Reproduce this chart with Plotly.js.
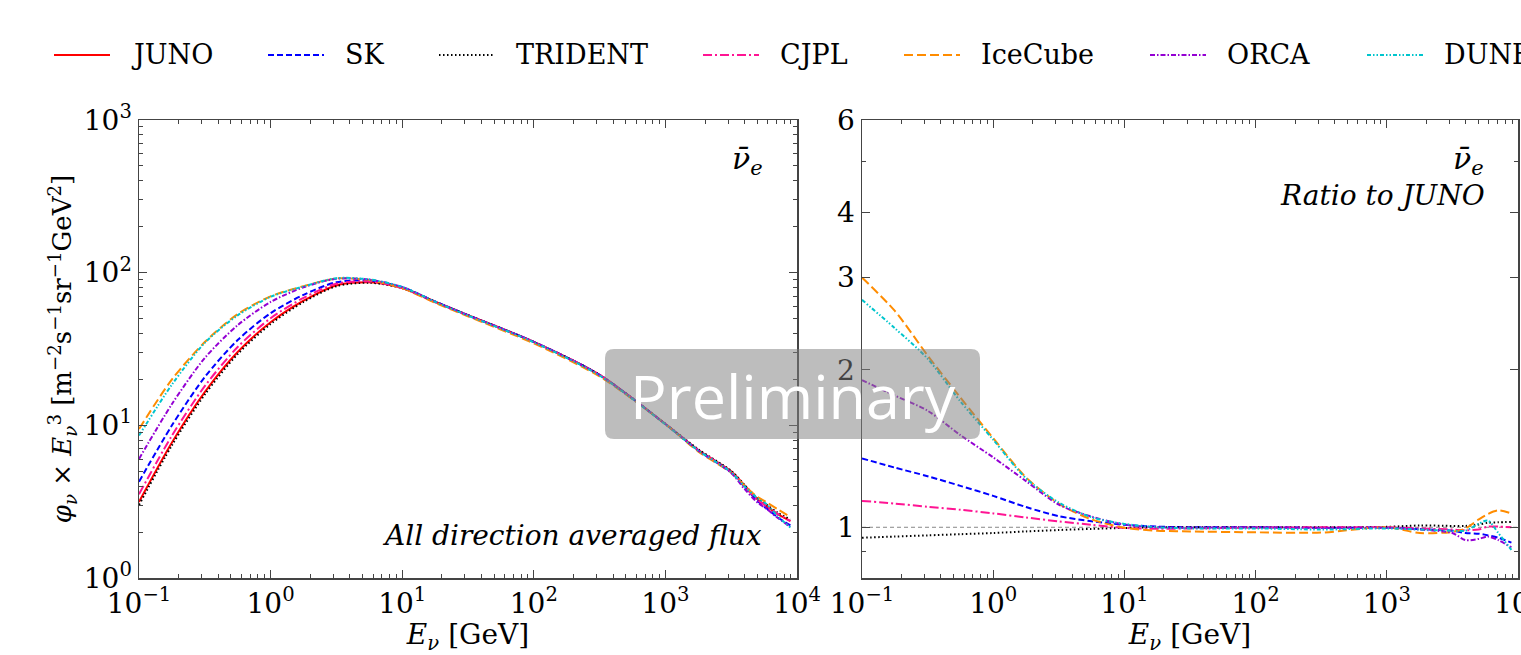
<!DOCTYPE html>
<html><head><meta charset="utf-8">
<script src="https://cdn.plot.ly/plotly-3.0.1.min.js"></script>
<style>html,body{margin:0;padding:0;background:#fff;overflow:hidden}#chart{width:1521px;height:655px}</style>
</head><body><div id="chart"></div>
<script>
// ---------- data ----------
const energy = [0.1, 0.178, 0.316, 0.562, 1, 1.78, 3.16, 5.62, 10, 17.8, 31.6, 100, 316, 1000, 1780, 3160, 3980, 5010, 5890, 7080, 8910];

const fluxJUNO    = [3.15, 7.72, 16.5, 30.2, 47.3, 65.5, 82.5, 86.5, 79.4, 64.5, 52.7, 35.2, 21.4, 10.2, 6.9, 5.0, 4.06, 3.28, 2.95, 2.63, 2.36];
const fluxSK      = [4.27, 10.0, 20.7, 36.2, 54.3, 71.6, 86.6, 88.8, 80.3, 64.7, 52.7, 35.2, 21.4, 10.2, 6.84, 4.93, 3.96, 3.19, 2.85, 2.51, 2.21];
const fluxTRIDENT = [3.01, 7.41, 15.9, 29.3, 46.1, 64.3, 81.5, 85.9, 79.2, 64.5, 52.7, 35.2, 21.4, 10.22, 6.96, 5.03, 4.08, 3.32, 3.01, 2.69, 2.42];
const fluxCJPL    = [3.54, 8.57, 18.05, 32.6, 50.3, 68.4, 84.6, 87.5, 79.2, 64.0, 52.4, 35.1, 21.4, 10.2, 6.87, 4.95, 4.01, 3.25, 2.96, 2.64, 2.36];
const fluxIceCube = [9.45, 20.0, 35.1, 53.5, 70.0, 81.5, 91.6, 89.5, 79.2, 63.5, 51.8, 34.4, 20.9, 10.2, 6.73, 4.9, 4.04, 3.39, 3.13, 2.83, 2.51];
const fluxORCA    = [6.02, 13.8, 27.6, 45.3, 64.3, 80.2, 91.2, 90.0, 80.4, 64.5, 52.6, 35.2, 21.3, 10.2, 6.83, 4.88, 3.84, 3.12, 2.83, 2.49, 2.16];
const fluxDUNE    = [8.57, 18.5, 34.7, 52.5, 69.5, 81.2, 92.0, 90.4, 80.6, 64.5, 52.4, 35.0, 21.2, 10.15, 6.83, 4.93, 4.0, 3.33, 3.04, 2.56, 2.14];

const ratioSK      = [1.354, 1.30, 1.252, 1.20, 1.148, 1.093, 1.05, 1.027, 1.011, 1.003, 1.0, 1.0, 0.998, 0.998, 0.992, 0.985, 0.975, 0.972, 0.965, 0.955, 0.935];
const ratioTRIDENT = [0.955, 0.96, 0.965, 0.97, 0.975, 0.982, 0.988, 0.993, 0.997, 1.0, 1.0, 1.0, 1.0, 1.002, 1.008, 1.006, 1.006, 1.012, 1.02, 1.022, 1.024];
const ratioCJPL    = [1.123, 1.11, 1.094, 1.08, 1.063, 1.044, 1.026, 1.011, 0.997, 0.993, 0.995, 0.998, 1.0, 1.0, 0.995, 0.99, 0.987, 0.99, 1.003, 1.003, 1.0];
const ratioIceCube = [3.0, 2.59, 2.13, 1.77, 1.48, 1.245, 1.11, 1.035, 0.998, 0.985, 0.982, 0.978, 0.977, 1.0, 0.975, 0.98, 0.995, 1.035, 1.06, 1.077, 1.063];
const ratioORCA    = [1.91, 1.785, 1.67, 1.50, 1.36, 1.225, 1.105, 1.048, 1.012, 1.0, 0.998, 1.0, 0.997, 0.998, 0.99, 0.975, 0.945, 0.95, 0.96, 0.945, 0.915];
const ratioDUNE    = [2.72, 2.40, 2.10, 1.74, 1.47, 1.24, 1.115, 1.045, 1.015, 1.0, 0.995, 0.995, 0.99, 0.995, 0.99, 0.985, 0.985, 1.015, 1.03, 0.975, 0.905];

const experiments = ['JUNO', 'SK', 'TRIDENT', 'CJPL', 'IceCube', 'ORCA', 'DUNE'];
const xTickVals = [0.1, 1, 10, 100, 1000, 10000];
const xTickText = ['10<sup>\u22121</sup>', '10<sup>0</sup>', '10<sup>1</sup>', '10<sup>2</sup>', '10<sup>3</sup>', '10<sup>4</sup>'];
const yTickVals = [1, 10, 100, 1000];
const yTickText = ['10<sup>0</sup>', '10<sup>1</sup>', '10<sup>2</sup>', '10<sup>3</sup>'];
const rTickVals = [1, 2, 3, 4, 6];
const rTickText = ['1', '2', '3', '4', '6'];

// ---------- styles ----------
const fluxes = {JUNO: fluxJUNO, SK: fluxSK, TRIDENT: fluxTRIDENT, CJPL: fluxCJPL, IceCube: fluxIceCube, ORCA: fluxORCA, DUNE: fluxDUNE};
const ratios = {SK: ratioSK, TRIDENT: ratioTRIDENT, CJPL: ratioCJPL, IceCube: ratioIceCube, ORCA: ratioORCA, DUNE: ratioDUNE};
const style = {
  JUNO:    {color: '#ff0000', dash: 'solid'},
  SK:      {color: '#0000ff', dash: '6px,3px'},
  TRIDENT: {color: '#000000', dash: '1.5px,2.5px'},
  CJPL:    {color: '#ff1493', dash: '9px,3px,2px,3px'},
  IceCube: {color: '#ff8c00', dash: '9px,4px'},
  ORCA:    {color: '#9400d3', dash: '5px,2px,1.5px,2px'},
  DUNE:    {color: '#00c5cd', dash: '4px,2px,1.5px,2px,1.5px,2px'}
};

const traces = [];
experiments.forEach(n => {
  traces.push({x: energy, y: fluxes[n], xaxis: 'x', yaxis: 'y', mode: 'lines', name: n,
    line: {color: style[n].color, dash: style[n].dash, width: 2, shape: 'spline', smoothing: 0.8}, hoverinfo: 'skip'});
});
experiments.forEach(n => {
  if (!ratios[n]) return;
  traces.push({x: energy, y: ratios[n], xaxis: 'x2', yaxis: 'y2', mode: 'lines', name: n + ' ratio', showlegend: false,
    line: {color: style[n].color, dash: style[n].dash, width: 2, shape: 'spline', smoothing: 0.8}, hoverinfo: 'skip'});
});

// ---------- geometry helpers ----------
const L = 139, R = 1518, T = 120, B = 578;
const px = v => (v - L) / (R - L);
const py = v => (B - v) / (B - T);

function minorLog(lo, hi) {
  const out = [];
  for (let e = lo; e < hi; e++) for (let k = 2; k <= 9; k++) out.push(k * Math.pow(10, e));
  return out;
}
const serif = 'DejaVu Serif, Liberation Serif, serif';
const axCol = '#444';
const tickFont = {family: serif, size: 28, color: '#000'};
function baseAxis(extra) {
  return Object.assign({
    showgrid: false, zeroline: false, showline: true, linecolor: axCol, linewidth: 1.5,
    mirror: 'allticks', ticks: 'inside', ticklen: 8, tickwidth: 1.2, tickcolor: axCol,
    tickfont: tickFont, tickmode: 'array', automargin: false
  }, extra);
}

const xTitle = {text: '<i>E<sub>\u03bd</sub></i> [GeV]', font: {family: serif, size: 28, color: '#000'}, standoff: 6};

const layout = {
  width: 1521, height: 655,
  margin: {l: L, r: 1521 - R, t: T, b: 655 - B},
  paper_bgcolor: '#fff', plot_bgcolor: '#fff', showlegend: false,
  xaxis: baseAxis({type: 'log', range: [-1, 4], domain: [0, 658 / 1379], anchor: 'y',
    tickvals: xTickVals, ticktext: xTickText, title: xTitle,
    minor: {tickvals: minorLog(-1, 4), ticks: 'inside', ticklen: 4, tickwidth: 1, tickcolor: axCol, showgrid: false}}),
  yaxis: baseAxis({type: 'log', range: [0, 3], anchor: 'x', tickvals: yTickVals, ticktext: yTickText,
    title: {text: '<i>\u03c6<sub>\u03bd</sub></i> \u00d7 <i>E</i><sub><i>\u03bd</i></sub><sup>3</sup> [m<sup>\u22122</sup>s<sup>\u22121</sup>sr<sup>\u22121</sup>GeV<sup>2</sup>]',
      font: {family: serif, size: 26, color: '#000'}, standoff: 4},
    minor: {tickvals: minorLog(0, 3), ticks: 'inside', ticklen: 4, tickwidth: 1, tickcolor: axCol, showgrid: false}}),
  xaxis2: baseAxis({type: 'log', range: [-1, 4], domain: [723 / 1379, 1], anchor: 'y2',
    tickvals: xTickVals, ticktext: xTickText, title: xTitle, ticklabeloverflow: 'allow',
    minor: {tickvals: minorLog(-1, 4), ticks: 'inside', ticklen: 4, tickwidth: 1, tickcolor: axCol, showgrid: false}}),
  yaxis2: baseAxis({type: 'log', range: [Math.log10(0.8), Math.log10(6)], anchor: 'x2',
    tickvals: rTickVals, ticktext: rTickText,
    minor: {tickvals: [0.8, 0.9, 5], ticks: 'inside', ticklen: 4, tickwidth: 1, tickcolor: axCol, showgrid: false}}),
  shapes: [],
  annotations: []
};

// reference line at ratio = 1
layout.shapes.push({type: 'line', xref: 'x2 domain', yref: 'y2', x0: 0, x1: 1, y0: 1, y1: 1,
  line: {color: '#888', width: 1, dash: '4px,3px'}, layer: 'below'});

// manual legend row
const legX = [54, 268, 439, 703, 904, 1150, 1367];
experiments.forEach((n, i) => {
  layout.shapes.push({type: 'line', xref: 'paper', yref: 'paper', x0: px(legX[i]), x1: px(legX[i] + 56), y0: py(55), y1: py(55),
    line: {color: style[n].color, dash: style[n].dash, width: 2}});
  layout.annotations.push({xref: 'paper', yref: 'paper', x: px(legX[i] + 75), y: py(55), xanchor: 'left', yanchor: 'middle',
    text: n, showarrow: false, font: {family: serif, size: 27, color: '#000'}});
});

// panel texts
const itFont = {family: serif, size: 28, color: '#000'};
layout.annotations.push(
  {xref: 'paper', yref: 'paper', x: px(765), y: py(160), xanchor: 'right', yanchor: 'middle', showarrow: false,
   text: '<i>\u03bd\u0304<sub>e</sub></i>', font: {family: serif, size: 30, color: '#000'}},
  {xref: 'paper', yref: 'paper', x: px(764), y: py(535), xanchor: 'right', yanchor: 'middle', showarrow: false,
   text: '<i>All direction averaged flux</i>', font: itFont},
  {xref: 'paper', yref: 'paper', x: px(1486), y: py(160), xanchor: 'right', yanchor: 'middle', showarrow: false,
   text: '<i>\u03bd\u0304<sub>e</sub></i>', font: {family: serif, size: 30, color: '#000'}},
  {xref: 'paper', yref: 'paper', x: px(1487), y: py(195), xanchor: 'right', yanchor: 'middle', showarrow: false,
   text: '<i>Ratio to JUNO</i>', font: itFont}
);

// "Preliminary" watermark box (rounded)
(function () {
  const x0 = 605, x1 = 980, y0 = 349, y1 = 439, r = 9;
  const P = (a, b) => px(a) + ',' + py(b);
  const d = 'M' + P(x0 + r, y0) + ' L' + P(x1 - r, y0) + ' Q' + P(x1, y0) + ' ' + P(x1, y0 + r) +
    ' L' + P(x1, y1 - r) + ' Q' + P(x1, y1) + ' ' + P(x1 - r, y1) +
    ' L' + P(x0 + r, y1) + ' Q' + P(x0, y1) + ' ' + P(x0, y1 - r) +
    ' L' + P(x0, y0 + r) + ' Q' + P(x0, y0) + ' ' + P(x0 + r, y0) + ' Z';
  layout.shapes.push({type: 'path', xref: 'paper', yref: 'paper', path: d,
    fillcolor: 'rgba(128,128,128,0.52)', line: {width: 0}, layer: 'above'});
  layout.annotations.push({xref: 'paper', yref: 'paper', x: px((x0 + x1) / 2), y: py(395), xanchor: 'center', yanchor: 'middle',
    showarrow: false, text: 'Preliminary', font: {family: 'Open Sans, Noto Sans, sans-serif', size: 61, color: '#ffffff', weight: 500}});
})();

Plotly.newPlot('chart', traces, layout, {staticPlot: true, displayModeBar: false});
</script>
</body></html>
